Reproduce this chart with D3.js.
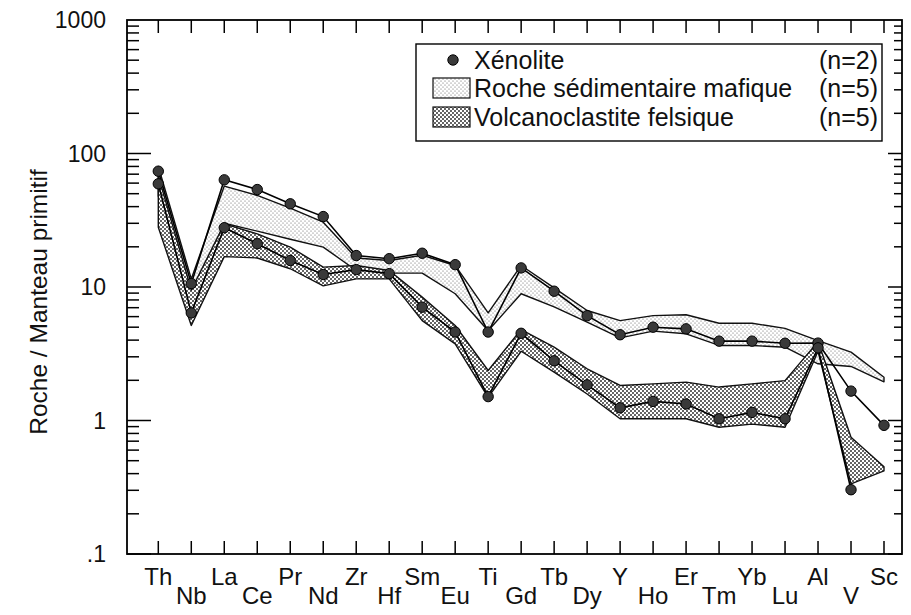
<!DOCTYPE html>
<html>
<head>
<meta charset="utf-8">
<script src="https://cdn.jsdelivr.net/npm/d3@7/dist/d3.min.js"></script>
<style>
  html, body { margin: 0; padding: 0; background: #fff; }
  svg { display: block; }
  text { font-family: "Liberation Sans", Arial, sans-serif; fill: #111; }
</style>
</head>
<body>
<div id="chart"></div>
<script>
// ---------- data ----------
const elements = ["Th","Nb","La","Ce","Pr","Nd","Zr","Hf","Sm","Eu","Ti","Gd","Tb","Dy","Y","Ho","Er","Tm","Yb","Lu","Al","V","Sc"];

const xenolite1 = [73.7, 10.6, 63.5, 53.7, 42, 33.7, 17.2, 16.3, 17.9, 14.7, 4.6, 13.9, 9.3, 6.1, 4.39, 5.0, 4.86, 3.93, 3.93, 3.79, 3.8, 1.66, 0.92];
const xenolite2 = [59.3, 6.4, 27.8, 21.1, 15.8, 12.4, 13.5, 12.6, 7.06, 4.6, 1.51, 4.5, 2.8, 1.85, 1.245, 1.39, 1.33, 1.03, 1.15, 1.03, 3.5, 0.303, null];

const mafiqueLow  = [48, 7.5, 30, 26.2, 22.8, 19.9, 13.3, 12.7, 12.7, 8.9, 4.7, 8.9, 7.1, 5.45, 4.16, 4.67, 4.46, 3.65, 3.65, 3.54, 2.66, 2.54, 1.95];
const mafiqueHigh = [80, 11.5, 57, 48.5, 39, 30.6, 16.5, 15.8, 17.3, 14.5, 6.4, 14.5, 9.85, 6.67, 5.6, 6.1, 6.2, 5.35, 5.35, 4.9, 3.97, 3.25, 2.11];

const felsiqueLow  = [28, 5.15, 16.9, 16.5, 13.7, 10.2, 11.5, 11.5, 5.6, 3.75, 1.49, 3.3, 2.3, 1.58, 1.03, 1.03, 1.03, 0.89, 0.94, 0.89, 3.3, 0.335, 0.42];
const felsiqueHigh = [68, 9.5, 29.7, 25, 19.9, 14.1, 14.5, 13.3, 8.4, 5.15, 2.37, 4.8, 3.54, 2.44, 1.83, 1.88, 1.94, 1.78, 1.88, 1.99, 3.9, 0.75, 0.45];

const yTickValues = [0.1, 1, 10, 100, 1000];
const yTickLabels = [".1", "1", "10", "100", "1000"];
const yTitle = "Roche / Manteau primitif";

const legendLabels = ["Xénolite", "Roche sédimentaire mafique", "Volcanoclastite felsique"];
const legendCounts = ["(n=2)", "(n=5)", "(n=5)"];

// ---------- layout ----------
const W = 911, H = 615;
const frame = {left: 127, right: 902, top: 20, bottom: 554};

const svg = d3.select("#chart").append("svg").attr("width", W).attr("height", H);
const defs = svg.append("defs");

function stipple(id, r, color, size) {
  const p = defs.append("pattern").attr("id", id).attr("patternUnits", "userSpaceOnUse")
    .attr("width", size).attr("height", size);
  p.append("rect").attr("width", size).attr("height", size).attr("fill", "#fff");
  p.append("circle").attr("cx", size*0.25).attr("cy", size*0.25).attr("r", r).attr("fill", color);
  p.append("circle").attr("cx", size*0.75).attr("cy", size*0.75).attr("r", r).attr("fill", color);
}
stipple("lightDots", 0.55, "#555", 4);
stipple("darkDots", 0.95, "#222", 4);

const x = d3.scalePoint().domain(elements).range([158.3, 884]);
const y = d3.scaleLog().domain([0.1, 1000]).range([frame.bottom, frame.top]);

// ---------- bands ----------
function band(low, high) {
  return d3.area()
    .x((d, i) => x(elements[i]))
    .y0((d, i) => y(low[i]))
    .y1((d, i) => y(high[i]))
    .curve(d3.curveLinear)(elements);
}
svg.append("path").attr("d", band(mafiqueLow, mafiqueHigh))
  .attr("fill", "url(#lightDots)").attr("stroke", "#111").attr("stroke-width", 1.4).attr("stroke-linejoin", "round");
svg.append("path").attr("d", band(felsiqueLow, felsiqueHigh))
  .attr("fill", "url(#darkDots)").attr("stroke", "#111").attr("stroke-width", 1.4).attr("stroke-linejoin", "round");

// ---------- xenolite lines & dots ----------
const line = d3.line()
  .defined(d => d.v != null)
  .x(d => x(d.e)).y(d => y(d.v));
[xenolite1, xenolite2].forEach(series => {
  const pts = elements.map((e, i) => ({e, v: series[i]}));
  svg.append("path").attr("d", line(pts)).attr("fill", "none")
    .attr("stroke", "#000").attr("stroke-width", 1.6);
});
[xenolite1, xenolite2].forEach(series => {
  const pts = elements.map((e, i) => ({e, v: series[i]})).filter(d => d.v != null);
  svg.append("g").selectAll("circle").data(pts).join("circle")
    .attr("cx", d => x(d.e)).attr("cy", d => y(d.v)).attr("r", 5.2)
    .attr("fill", "#3a3a3a").attr("stroke", "#000").attr("stroke-width", 1);
});

// ---------- frame & ticks ----------
svg.append("rect").attr("x", frame.left).attr("y", frame.top)
  .attr("width", frame.right - frame.left).attr("height", frame.bottom - frame.top)
  .attr("fill", "none").attr("stroke", "#000").attr("stroke-width", 1.8);

const tickG = svg.append("g").attr("stroke", "#000").attr("stroke-width", 1.5);
elements.forEach(e => {
  tickG.append("line").attr("x1", x(e)).attr("x2", x(e)).attr("y1", frame.bottom).attr("y2", frame.bottom - 13);
  tickG.append("line").attr("x1", x(e)).attr("x2", x(e)).attr("y1", frame.top).attr("y2", frame.top + 13);
});
for (let dec = 0.1; dec < 1000; dec *= 10) {
  for (let m = 1; m <= 9; m++) {
    const v = dec * m;
    const len = m === 1 ? 24 : 12;
    tickG.append("line").attr("x1", frame.left).attr("x2", frame.left + len).attr("y1", y(v)).attr("y2", y(v));
    tickG.append("line").attr("x1", frame.right).attr("x2", frame.right - (m === 1 ? 14 : 8)).attr("y1", y(v)).attr("y2", y(v));
  }
}

// y tick labels
svg.append("g").selectAll("text").data(yTickValues).join("text")
  .attr("x", 106).attr("y", d => y(d)).attr("dy", "0.36em")
  .attr("text-anchor", "end").attr("font-size", 23)
  .text((d, i) => yTickLabels[i]);

// y title
svg.append("text").attr("transform", "translate(38,302) rotate(-90)")
  .attr("text-anchor", "middle").attr("dy", "0.35em").attr("font-size", 24.5).attr("fill", "#333")
  .text(yTitle);

// x labels, alternating rows
svg.append("g").selectAll("text").data(elements).join("text")
  .attr("x", d => x(d)).attr("y", (d, i) => i % 2 === 0 ? 585 : 604)
  .attr("text-anchor", "middle").attr("font-size", 24)
  .text(d => d);

// ---------- legend ----------
const lg = svg.append("g");
lg.append("rect").attr("x", 416).attr("y", 44).attr("width", 466).attr("height", 97)
  .attr("fill", "#fff").attr("stroke", "#000").attr("stroke-width", 1.4);
const rowY = [60, 88, 117];
lg.append("circle").attr("cx", 453).attr("cy", rowY[0]).attr("r", 5.2)
  .attr("fill", "#3a3a3a").attr("stroke", "#000");
lg.append("rect").attr("x", 433).attr("y", rowY[1] - 10).attr("width", 37).attr("height", 20)
  .attr("fill", "url(#lightDots)").attr("stroke", "#111").attr("stroke-width", 1.2);
lg.append("rect").attr("x", 433).attr("y", rowY[2] - 10).attr("width", 37).attr("height", 20)
  .attr("fill", "url(#darkDots)").attr("stroke", "#111").attr("stroke-width", 1.2);
legendLabels.forEach((t, i) => {
  lg.append("text").attr("x", 474).attr("y", rowY[i]).attr("dy", "0.36em")
    .attr("font-size", 25).text(t);
  lg.append("text").attr("x", 878).attr("y", rowY[i]).attr("dy", "0.36em")
    .attr("text-anchor", "end").attr("font-size", 25).text(legendCounts[i]);
});
</script>
</body>
</html>
